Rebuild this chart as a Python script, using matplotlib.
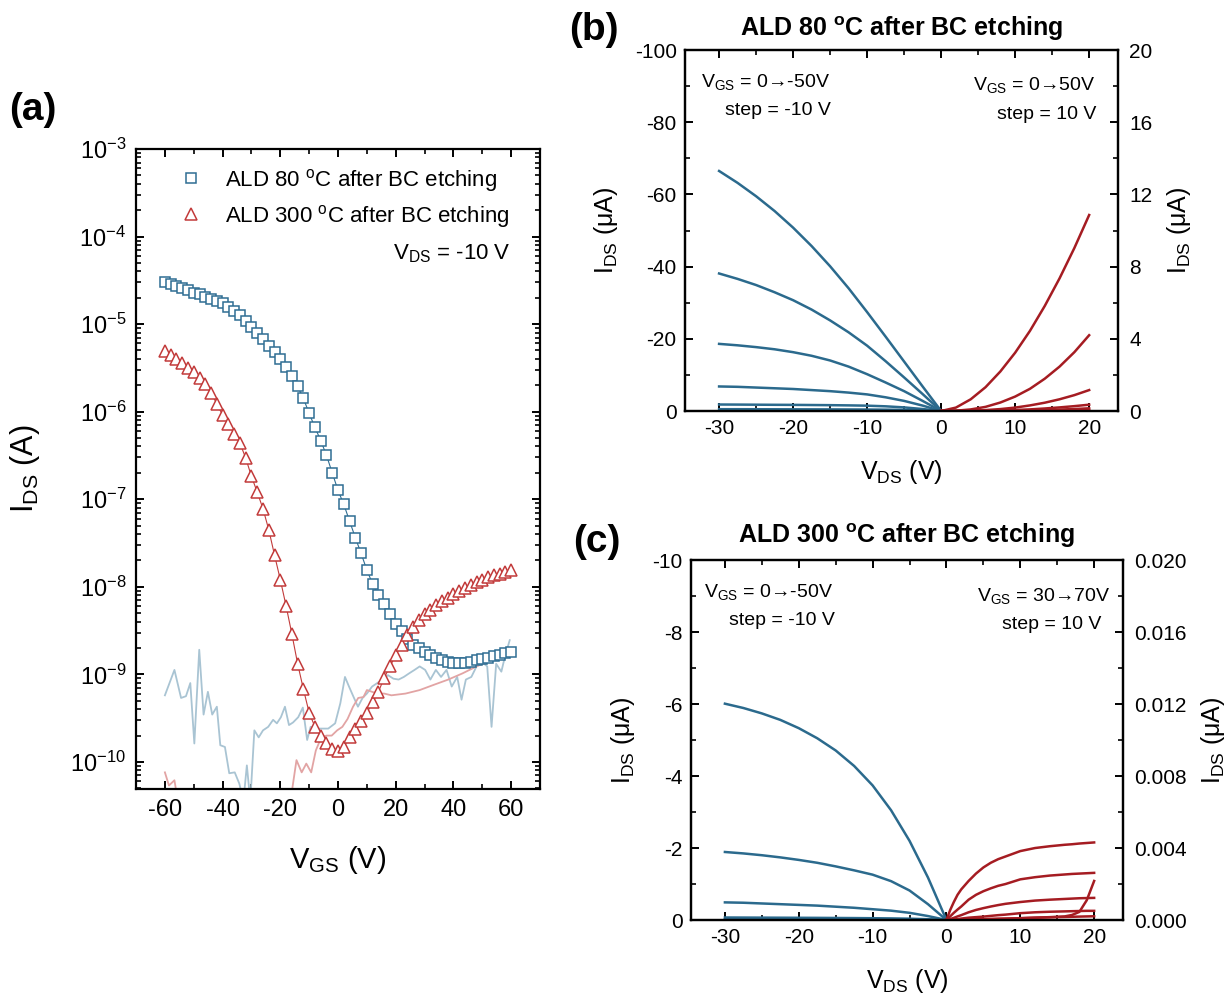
import numpy as np
import matplotlib
matplotlib.use("Agg")
import matplotlib.pyplot as plt
from matplotlib.ticker import MultipleLocator, LogLocator, NullFormatter, FormatStrFormatter

plt.rcParams['font.family'] = ['Liberation Sans', 'DejaVu Sans']
plt.rcParams['mathtext.fontset'] = 'custom'
plt.rcParams['mathtext.rm'] = 'Liberation Sans'
plt.rcParams['mathtext.it'] = 'Liberation Sans:italic'
plt.rcParams['mathtext.bf'] = 'Liberation Sans:bold'
plt.rcParams['axes.unicode_minus'] = False
plt.rcParams['axes.linewidth'] = 1.6

# ---- (a) transfer curves, V_DS = -10 V (log10 of I_DS in A) ----
vgs = [-60, -58, -56, -54, -52, -50, -48, -46, -44, -42,
       -40, -38, -36, -34, -32, -30, -28, -26, -24, -22,
       -20, -18, -16, -14, -12, -10, -8, -6, -4, -2,
       0, 2, 4, 6, 8, 10, 12, 14, 16, 18,
       20, 22, 24, 26, 28, 30, 32, 34, 36, 38,
       40, 42, 44, 46, 48, 50, 52, 54, 56, 58, 60]
log_ids_80 = [-4.52, -4.54, -4.56, -4.59, -4.61, -4.64, -4.66, -4.69, -4.71, -4.74,
              -4.76, -4.80, -4.85, -4.90, -4.96, -5.03, -5.10, -5.17, -5.25, -5.32,
              -5.40, -5.49, -5.59, -5.71, -5.85, -6.02, -6.18, -6.33, -6.50, -6.70,
              -6.90, -7.06, -7.25, -7.44, -7.62, -7.81, -7.97, -8.09, -8.20, -8.31,
              -8.42, -8.51, -8.60, -8.66, -8.70, -8.74, -8.78, -8.81, -8.84, -8.86,
              -8.87, -8.87, -8.87, -8.86, -8.84, -8.82, -8.81, -8.79, -8.78, -8.76, -8.74]
log_ids_300 = [-5.31, -5.35, -5.40, -5.45, -5.50, -5.55, -5.62, -5.69, -5.79, -5.91,
               -6.04, -6.14, -6.25, -6.36, -6.53, -6.74, -6.92, -7.11, -7.35, -7.64,
               -7.92, -8.22, -8.54, -8.88, -9.17, -9.44, -9.60, -9.71, -9.79, -9.85,
               -9.88, -9.83, -9.72, -9.63, -9.53, -9.44, -9.32, -9.20, -9.04, -8.91,
               -8.78, -8.66, -8.55, -8.46, -8.38, -8.31, -8.26, -8.21, -8.16, -8.13,
               -8.08, -8.05, -8.02, -7.98, -7.95, -7.92, -7.89, -7.87, -7.85, -7.83, -7.81]

# gate leakage (faint lines)
vgs_leak_80 = [-60, -56.7, -54.4, -52.7, -51.2, -49.8, -48.1, -46.6, -45.1, -43.6, -42.0, -40.8,
               -39.2, -37.7, -35.8, -34.2, -32.8, -31.6, -30.4, -29.0, -27.5, -26.0, -24.2, -22.5,
               -21.2, -19.8, -18.4, -17.0, -15.6, -13.8, -12.2, -10.7, -9.5, -7.7, -5.8, -3.4,
               -1.0, 0.8, 2.4, 3.8, 5.4, 6.9, 8.5, 10.0, 11.8, 13.6, 15.5, 17.3,
               19.2, 21.0, 22.8, 24.6, 26.5, 28.3, 30.2, 32.0, 33.9, 35.7, 37.6, 39.4,
               41.3, 42.8, 44.3, 46.2, 48.0, 49.9, 51.7, 53.2, 54.8, 56.6, 57.9, 59.5]
log_leak_80 = [-9.24, -8.95, -9.27, -9.25, -9.10, -9.79, -8.72, -9.46, -9.20, -9.46, -9.37, -9.81,
               -9.83, -10.13, -10.12, -10.25, -10.45, -10.04, -10.45, -9.64, -9.72, -9.64, -9.60, -9.52,
               -9.56, -9.49, -9.37, -9.58, -9.55, -9.49, -9.38, -9.75, -9.60, -9.62, -9.62, -9.62,
               -9.56, -9.33, -9.03, -9.14, -9.26, -9.37, -9.27, -9.22, -9.14, -9.10, -9.06, -9.01,
               -9.05, -9.06, -9.03, -8.99, -8.95, -8.91, -8.95, -9.06, -8.95, -9.03, -8.95, -9.14,
               -9.03, -9.29, -9.06, -9.03, -8.91, -8.86, -8.91, -9.60, -8.88, -8.97, -8.79, -8.61]
vgs_leak_300 = [-60, -58.6, -56.7, -55.5, -50, -40, -30, -20, -16.5, -14.4, -12.6, -11.0,
                -9.3, -7.7, -5.8, -4.0, -2.2, -0.3, 1.5, 3.3, 5.2, 7.0, 8.8, 10.0,
                11.8, 13.6, 16.0, 18.5, 23.4, 28.3, 33.2, 38.2, 43.1, 48.0, 53.0, 57.9, 59.5]
log_leak_300 = [-10.12, -10.27, -10.21, -10.45, -10.6, -10.6, -10.6, -10.6, -10.45, -9.98, -10.12, -10.02,
                -10.12, -9.87, -9.72, -9.70, -9.70, -9.64, -9.60, -9.51, -9.37, -9.27, -9.26, -9.18,
                -9.20, -9.22, -9.22, -9.24, -9.22, -9.18, -9.12, -9.06, -8.99, -8.91, -8.84, -8.78, -8.76]

# ---- (b) output curves, ALD 80 C (uA) ----
vds_neg = [-30, -27.5, -25, -22.5, -20, -17.5, -15, -12.5, -10, -7.5, -5, -2.5, 0]
b_neg = [
    [-66.5, -63.2, -59.5, -55.4, -50.8, -45.7, -40.1, -34.0, -27.4, -20.6, -13.7, -6.8, 0],
    [-38.1, -36.6, -34.9, -32.9, -30.7, -28.1, -25.1, -21.8, -18.1, -13.8, -9.3, -4.7, 0],
    [-18.6, -18.2, -17.7, -17.1, -16.3, -15.3, -14.0, -12.3, -10.2, -7.9, -5.5, -2.8, 0],
    [-6.8, -6.7, -6.5, -6.3, -6.1, -5.8, -5.5, -5.1, -4.6, -3.8, -2.8, -1.5, 0],
    [-1.8, -1.78, -1.75, -1.72, -1.70, -1.66, -1.62, -1.56, -1.48, -1.30, -1.0, -0.55, 0],
    [-0.5, -0.5, -0.49, -0.48, -0.47, -0.46, -0.45, -0.43, -0.41, -0.37, -0.30, -0.17, 0],
]
vds_pos_b = [0, 2, 4, 6, 8, 10, 12, 14, 16, 18, 20]
b_pos = [
    [0, 0.19, 0.65, 1.32, 2.19, 3.23, 4.44, 5.82, 7.35, 9.03, 10.86],
    [0, 0.017, 0.088, 0.23, 0.47, 0.80, 1.23, 1.79, 2.46, 3.26, 4.2],
    [0, 0.003, 0.018, 0.051, 0.107, 0.19, 0.31, 0.46, 0.65, 0.88, 1.16],
    [0, 0.001, 0.005, 0.015, 0.032, 0.057, 0.09, 0.14, 0.20, 0.27, 0.35],
    [0, 0.0005, 0.002, 0.006, 0.013, 0.024, 0.038, 0.056, 0.08, 0.11, 0.15],
    [0, 0.0002, 0.001, 0.002, 0.005, 0.009, 0.015, 0.022, 0.032, 0.045, 0.06],
]

# ---- (c) output curves, ALD 300 C (uA) ----
c_neg = [
    [-6.01, -5.89, -5.74, -5.56, -5.33, -5.05, -4.71, -4.28, -3.74, -3.05, -2.20, -1.18, 0],
    [-1.89, -1.85, -1.80, -1.74, -1.67, -1.59, -1.49, -1.38, -1.26, -1.08, -0.82, -0.44, 0],
    [-0.49, -0.48, -0.46, -0.44, -0.42, -0.40, -0.37, -0.34, -0.30, -0.26, -0.20, -0.11, 0],
    [-0.07, -0.068, -0.066, -0.064, -0.062, -0.060, -0.057, -0.054, -0.050, -0.045, -0.037, -0.022, 0],
    [-0.02, -0.02, -0.019, -0.019, -0.018, -0.018, -0.017, -0.016, -0.015, -0.013, -0.011, -0.006, 0],
]
vds_pos_c = [0, 0.5, 1, 1.5, 2, 3, 4, 5, 6, 7, 8, 10, 12, 14, 16, 17, 18, 19, 20]
c_pos = [
    [0, .00055, .0010, .00140, .00170, .00217, .00258, .00292, .00318, .00338, .00353, .00383, .00400, .00410, .00418, .00421, .00425, .00428, .00431],
    [0, .0002, .0004, .00058, .00075, .00113, .00140, .00160, .00176, .00190, .00200, .00226, .00238, .00247, .00253, .00256, .00258, .00260, .00262],
    [0, .00005, .00012, .0002, .00027, .00043, .00056, .00066, .00075, .00083, .0009, .00100, .00108, .00113, .00117, .00119, .00121, .00122, .00123],
    [0, 0, .00002, .00005, .00008, .00013, .00016, .00019, .00023, .00027, .0003, .00038, .00043, .00046, .00048, .00049, .0005, .00051, .00051],
    [0, 0, 0, .00001, .00002, .00003, .00004, .00005, .00006, .00007, .00008, .0001, .00013, .00015, .00017, .00018, .00019, .0002, .00021],
    [0, 0, 0, 0, .00001, .00002, .00003, .00004, .00005, .00006, .00007, .0001, .00013, .00016, .0002, .00028, .00045, .0011, .00217],
]

BLUE = '#2b6a8d'
RED = '#a51c22'
MK_BLUE = '#2f6e93'
MK_RED = '#c23b3b'

fig = plt.figure(figsize=(12.29, 10.01), dpi=100)

# ================= (a) =================
ax = fig.add_axes([0.1107, 0.2118, 0.3287, 0.6394])
ax.plot(vgs_leak_80, 10 ** np.array(log_leak_80), color='#a9c4d3', lw=1.3)
ax.plot(vgs_leak_300, 10 ** np.array(log_leak_300), color='#e2a4a4', lw=1.3)
ax.plot(vgs, 10 ** np.array(log_ids_80), color=MK_BLUE, lw=0.8)
ax.plot(vgs, 10 ** np.array(log_ids_300), color=MK_RED, lw=0.8)
ax.plot(vgs, 10 ** np.array(log_ids_80), ls='none', marker='s', ms=7.5, mfc='white',
        mec=MK_BLUE, mew=1.1, label=r'ALD 80 $^{\mathregular{o}}$C after BC etching')
ax.plot(vgs, 10 ** np.array(log_ids_300), ls='none', marker='^', ms=8.5, mfc='white',
        mec=MK_RED, mew=1.1, label=r'ALD 300 $^{\mathregular{o}}$C after BC etching')
ax.set_yscale('log')
ax.set_xlim(-70, 70)
ax.set_ylim(4.9e-11, 1e-3)
ax.xaxis.set_major_locator(MultipleLocator(20))
ax.xaxis.set_minor_locator(MultipleLocator(10))
ax.yaxis.set_major_locator(LogLocator(base=10, numticks=20))
ax.yaxis.set_minor_locator(LogLocator(base=10, subs=np.arange(2, 10), numticks=100))
ax.yaxis.set_minor_formatter(NullFormatter())
ax.tick_params(which='both', direction='in', top=True, right=True, labelsize=17)
ax.tick_params(which='major', length=6, width=1.4, pad=7)
ax.tick_params(which='minor', length=3.5, width=1.2)
ax.set_xlabel(r'V$_{\mathregular{GS}}$ (V)', fontsize=21)
ax.set_ylabel(r'I$_{\mathregular{DS}}$ (A)', fontsize=22)
ax.xaxis.set_label_coords(0.5, -0.086)
ax.yaxis.set_label_coords(-0.232, 0.5)
ax.legend(loc='upper right', bbox_to_anchor=(0.925, 0.972), frameon=False, fontsize=16,
          handlelength=1.5, handletextpad=0.8, labelspacing=0.4, borderpad=0, borderaxespad=0)
ax.text(0.928, 0.827, r'V$_{\mathregular{DS}}$ = -10 V', transform=ax.transAxes,
        ha='right', va='baseline', fontsize=16)

# ================= (b) / (c) =================
def output_panel(rect, neg_curves, pos_x, pos_curves, ylim_l, ystep_l, ylim_r, ystep_r,
                 title, title_pad, right_fmt, ylab_l, ylab_r, notes):
    a1 = fig.add_axes(rect)
    for ys in neg_curves:
        a1.plot(vds_neg, ys, color=BLUE, lw=1.8)
    a1.set_xlim(-34.6, 23.9)
    a1.set_ylim(0, ylim_l)
    a1.xaxis.set_major_locator(MultipleLocator(10))
    a1.xaxis.set_minor_locator(MultipleLocator(5))
    a1.yaxis.set_major_locator(MultipleLocator(ystep_l))
    a1.yaxis.set_minor_locator(MultipleLocator(ystep_l / 2))
    a1.tick_params(which='both', direction='in', top=True, labelsize=15)
    a1.tick_params(which='major', length=6, width=1.4, pad=6)
    a1.tick_params(which='minor', length=3.5, width=1.2)
    a2 = a1.twinx()
    for ys in pos_curves:
        a2.plot(pos_x, ys, color=RED, lw=1.8)
    a2.set_ylim(0, ylim_r)
    a2.yaxis.set_major_locator(MultipleLocator(ystep_r))
    a2.yaxis.set_minor_locator(MultipleLocator(ystep_r / 2))
    if right_fmt:
        a2.yaxis.set_major_formatter(FormatStrFormatter(right_fmt))
    a2.tick_params(which='both', direction='in', labelsize=15)
    a2.tick_params(which='major', length=6, width=1.4, pad=8)
    a2.tick_params(which='minor', length=3.5, width=1.2)
    a1.set_xlabel(r'V$_{\mathregular{DS}}$ (V)', fontsize=18)
    a1.set_ylabel(r'I$_{\mathregular{DS}}$ ($\mathregular{\mu}$A)', fontsize=18)
    a2.set_ylabel(r'I$_{\mathregular{DS}}$ ($\mathregular{\mu}$A)', fontsize=18)
    a1.xaxis.set_label_coords(0.5, -0.13)
    a1.yaxis.set_label_coords(ylab_l, 0.5)
    a2.yaxis.set_label_coords(ylab_r, 0.5)
    a1.set_title(title, fontsize=18, fontweight='bold', pad=title_pad)
    for (x, y, s) in notes:
        a1.text(x, y, s, transform=a1.transAxes, ha='right', va='baseline', fontsize=14)
    return a1, a2

output_panel([0.5574, 0.5894, 0.3523, 0.3606], b_neg, vds_pos_b, b_pos,
             -100, 20, 20, 4, r'ALD 80 $^{\mathbf{o}}$C after BC etching', 10, None,
             -0.150, 1.109,
             [(0.335, 0.898, r'V$_{\mathregular{GS}}$ = 0→-50V'),
              (0.337, 0.820, 'step = -10 V'),
              (0.949, 0.889, r'V$_{\mathregular{GS}}$ = 0→50V'),
              (0.949, 0.809, 'step = 10 V')])

output_panel([0.5622, 0.0809, 0.3515, 0.3596], c_neg, vds_pos_c, c_pos,
             -10, 2, 0.020, 0.004, r'ALD 300 $^{\mathbf{o}}$C after BC etching', 12, '%.3f',
             -0.125, 1.176,
             [(0.329, 0.897, r'V$_{\mathregular{GS}}$ = 0→-50V'),
              (0.333, 0.819, 'step = -10 V'),
              (0.972, 0.886, r'V$_{\mathregular{GS}}$ = 30→70V'),
              (0.951, 0.808, 'step = 10 V')])

# panel letters
fig.text(9 / 1229, 1 - 110 / 1001, '(a)', fontsize=28, fontweight='bold', ha='left', va='center')
fig.text(569 / 1229, 1 - 30 / 1001, '(b)', fontsize=28, fontweight='bold', ha='left', va='center')
fig.text(573 / 1229, 1 - 542 / 1001, '(c)', fontsize=28, fontweight='bold', ha='left', va='center')

fig.savefig('out.png', dpi=100, facecolor='white')
